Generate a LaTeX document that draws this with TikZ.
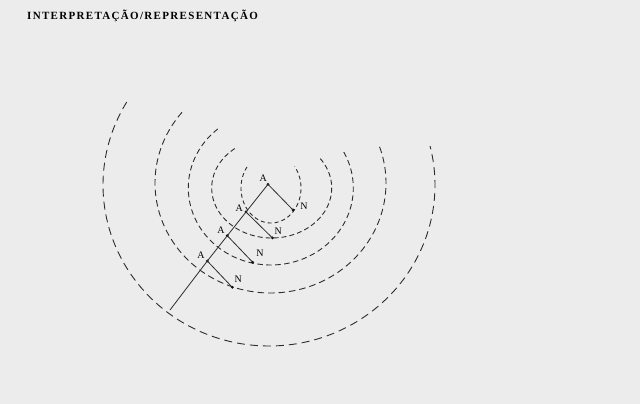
\documentclass[tikz,border=0pt]{standalone}
\usepackage{fontspec}
\setmainfont{Liberation Serif}
\newfontfamily\titlefont[LetterSpace=12]{Liberation Serif}
\definecolor{paper}{RGB}{236,236,236}
\definecolor{ink}{RGB}{45,45,45}
\begin{document}
\begin{tikzpicture}[x=1pt,y=1pt,
  wave/.style={draw=ink, line width=0.9pt},
  link/.style={draw=ink, line width=0.8pt},
  dot/.style={circle, fill=black, inner sep=0pt, minimum size=3pt},
  lab/.style={font=\fontsize{10}{11}\selectfont, inner sep=0pt}]
\fill[paper] (0,0) rectangle (640,404);
\useasboundingbox (0,0) rectangle (640,404);
\node[anchor=base west, inner sep=0pt, font=\titlefont\bfseries\fontsize{11}{12}\selectfont] (title) at (27,384.7) {INTERPRETAÇÃO/REPRESENTAÇÃO};
% dashed arcs
\draw[wave, dash pattern=on 4pt off 3pt] plot[domain=143:398, samples=120, smooth] ({271+30*cos(\x)},{216+35*sin(\x)});
\draw[wave, dash pattern=on 5pt off 3pt] plot[domain=128:396, samples=150, smooth] ({271.7+60*cos(\x)},{216+50*sin(\x)});
\draw[wave, dash pattern=on 5.5pt off 3.5pt] plot[domain=130:388, samples=180, smooth] ({270.8+82.5*cos(\x)},{216+77*sin(\x)});
\draw[wave, dash pattern=on 6.5pt off 4pt] plot[domain=140:381, samples=200, smooth] ({270.5+115.5*cos(\x)},{221+110*sin(\x)});
\draw[wave, dash pattern=on 8pt off 5pt] plot[domain=149:374, samples=240, smooth] ({269+166*cos(\x)},{219+161*sin(\x)});
% points
\coordinate (bot) at (170,94);
\node[dot] (a1) at (268,219.7) {};
\node[dot] (a2) at (246,192) {};
\node[dot] (a3) at (227.3,168.3) {};
\node[dot] (a4) at (207.3,143) {};
\node[dot] (n1) at (293,194) {};
\node[dot] (n2) at (272.5,166) {};
\node[dot] (n3) at (252.7,141.7) {};
\node[dot] (n4) at (232.3,116.7) {};
\draw[link] (bot) -- (a4.center) -- (a3.center) -- (a2.center) -- (a1.center);
\draw[link] (a1.center) -- (n1.center);
\draw[link] (a2.center) -- (n2.center);
\draw[link] (a3.center) -- (n3.center);
\draw[link] (a4.center) -- (n4.center);
% labels
\node[lab] (la1) at (263.3,225.7) {A};
\node[lab] (la2) at (239.3,195.7) {A};
\node[lab] (la3) at (221,174) {A};
\node[lab] (la4) at (201,148.3) {A};
\node[lab] (ln1) at (304,197.3) {N};
\node[lab] (ln2) at (278.3,173) {N};
\node[lab] (ln3) at (260,150.7) {N};
\node[lab] (ln4) at (238.3,125) {N};
\end{tikzpicture}
\end{document}
